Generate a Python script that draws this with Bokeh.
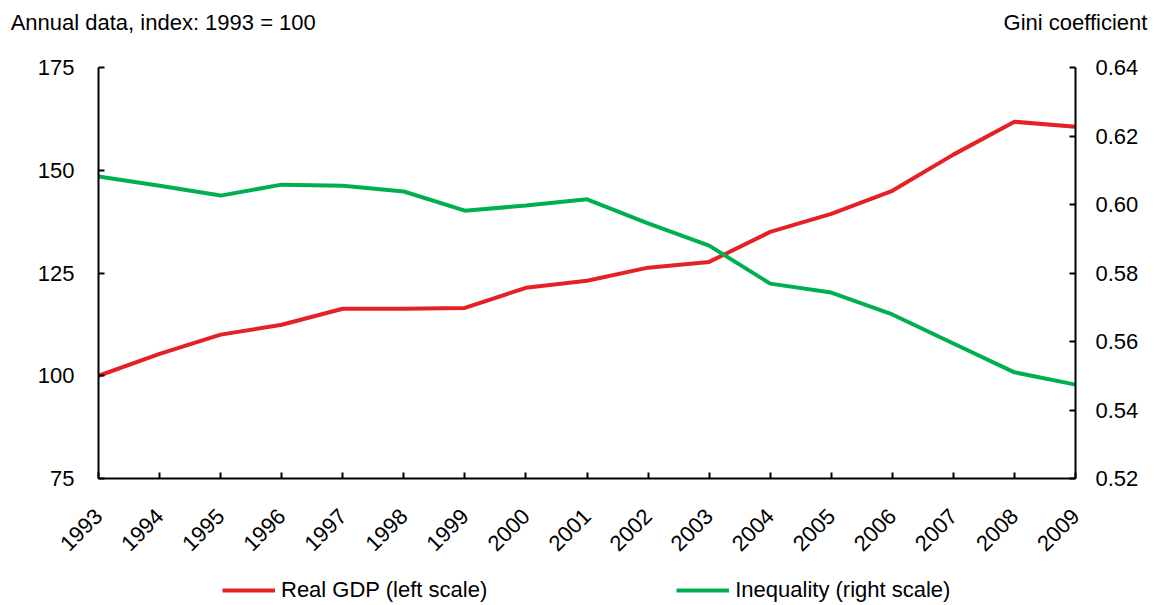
from bokeh.plotting import figure
from bokeh.layouts import column
from bokeh.models import Range1d, LinearAxis, FixedTicker, Legend, LegendItem, NumeralTickFormatter
from bokeh.embed import file_html
from bokeh.resources import INLINE
import math

years = list(range(1993, 2010))
real_gdp = [100.0, 105.3, 110.0, 112.4, 116.3, 116.3, 116.5, 121.4, 123.1,
            126.3, 127.7, 135.0, 139.4, 145.0, 153.8, 161.8, 160.6]
gini = [0.6082, 0.6055, 0.6026, 0.6058, 0.6055, 0.6038, 0.5982, 0.5997, 0.6015,
        0.5945, 0.5880, 0.5769, 0.5743, 0.5679, 0.5594, 0.5510, 0.5474]
left_ticks = [75, 100, 125, 150, 175]
right_ticks = [0.52, 0.54, 0.56, 0.58, 0.60, 0.62, 0.64]
left_title = "Annual data, index: 1993 = 100"
right_title = "Gini coefficient"
series_names = ["Real GDP (left scale)", "Inequality (right scale)"]

FONT = "Liberation Sans"
FS = "22px"
RED = "#E42125"
GREEN = "#00B050"

MAIN_H = 565
p = figure(width=1161, height=MAIN_H, output_backend="svg", toolbar_location=None,
           x_range=Range1d(1993, 2009), y_range=Range1d(75, 175),
           min_border_left=98, min_border_right=86, min_border_top=67,
           min_border_bottom=MAIN_H - 478)
p.extra_y_ranges = {"gini": Range1d(0.52, 0.64)}
p.outline_line_color = None
p.grid.visible = False
p.background_fill_color = "white"
p.border_fill_color = "white"

def style(ax):
    ax.axis_line_width = 2
    ax.axis_line_color = "black"
    ax.major_tick_line_width = 2
    ax.major_tick_line_color = "black"
    ax.major_tick_in = 6
    ax.major_tick_out = 0
    ax.minor_tick_line_color = None
    ax.major_label_text_font = FONT
    ax.major_label_text_font_size = FS
    ax.major_label_text_color = "black"

xa = p.xaxis[0]
style(xa)
xa.ticker = FixedTicker(ticks=years)
xa.major_label_orientation = math.pi / 4
xa.major_label_standoff = 34

ya = p.yaxis[0]
style(ya)
ya.ticker = FixedTicker(ticks=left_ticks)
ya.major_label_standoff = 24

ra = LinearAxis(y_range_name="gini")
style(ra)
ra.ticker = FixedTicker(ticks=right_ticks)
ra.formatter = NumeralTickFormatter(format="0.00")
ra.major_label_standoff = 20
p.add_layout(ra, "right")

r1 = p.line(years, real_gdp, line_color=RED, line_width=4)
r2 = p.line(years, gini, line_color=GREEN, line_width=4, y_range_name="gini")

# header texts: label-only axis above the frame
hdr_pos = [1994.06, 2009.0]
ha = LinearAxis(ticker=FixedTicker(ticks=hdr_pos),
                major_label_overrides={hdr_pos[0]: left_title, hdr_pos[1]: right_title})
ha.axis_line_color = None
ha.major_tick_line_color = None
ha.minor_tick_line_color = None
ha.major_tick_in = 0
ha.major_tick_out = 0
ha.major_label_standoff = 33
ha.major_label_text_font = FONT
ha.major_label_text_font_size = FS
ha.major_label_text_color = "black"
p.add_layout(ha, "above")

# footer strip holding the legend (its frame is aligned with the main frame)
FOOT_H = 605 - MAIN_H
f = figure(width=1161, height=FOOT_H, output_backend="svg", toolbar_location=None,
           x_axis_type=None, y_axis_type=None,
           x_range=Range1d(0, 1), y_range=Range1d(0, 1),
           min_border=0)
f.outline_line_color = None
f.grid.visible = False
f.background_fill_color = "white"
f.border_fill_color = "white"
# same series, drawn outside this strip's visible range: only their legend swatches show
l1 = f.line(years, real_gdp, line_color=RED, line_width=4)
l2 = f.line(years, gini, line_color=GREEN, line_width=4)
legend = Legend(items=[LegendItem(label=series_names[0], renderers=[l1]),
                       LegendItem(label=series_names[1], renderers=[l2])],
                orientation="horizontal", location=(124, 2),
                glyph_width=53, glyph_height=20, label_height=20, label_standoff=6,
                spacing=189, padding=0, margin=0, border_line_color=None,
                background_fill_alpha=0,
                label_text_font=FONT, label_text_font_size=FS, label_text_color="black")
f.add_layout(legend, "center")

layout = column(p, f, spacing=0)
open("out.html", "w").write(file_html(layout, INLINE))
